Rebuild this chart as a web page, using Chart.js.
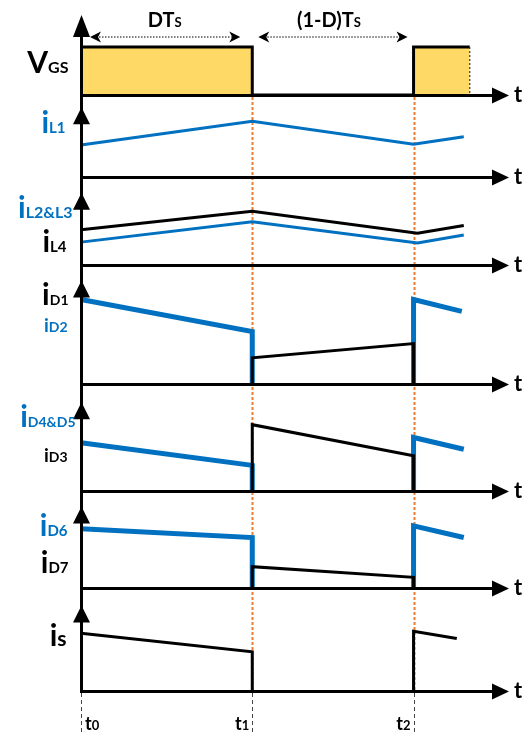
<!DOCTYPE html>
<html>
<head>
<meta charset="utf-8">
<script src="https://cdn.jsdelivr.net/npm/chart.js@4.4.1/dist/chart.umd.min.js"></script>
<style>
  html, body { margin: 0; padding: 0; background: #ffffff; }
  #wrap { width: 527px; height: 732px; }
</style>
</head>
<body>
<div id="wrap"><canvas id="wave" width="527" height="732"></canvas></div>
<script>
// Switching instants over one period (period normalised to 1, duty ratio D)
const instants = [0, 0.515, 1];
const instantSubscripts = ['0', '1', '2'];

// Gate-source voltage V_GS
const vgsTime = [0, 0.515, 0.515, 1, 1, 1.169];
const vgsLevel = [6, 6, 0, 0, 6, 6];

// Inductor currents
const iL1Time = [0, 0.515, 1, 1.151];
const iL1 = [3.9, 6.8, 4.0, 4.9];
const iL234Time = [0, 0.515, 1.012, 1.151];
const iL4 = [4.0, 6.1, 3.6, 4.5];
const iL23 = [2.6, 4.9, 2.5, 3.4];

// Diode currents (null = no trace between the two pulses)
const onTime = [0, 0.515, 0.515, 0.515, 1, 1];
const offTime = [0.515, 0.515, 1, 1];
const iD2 = [7.1, 4.4, 0, null, 0, 7.1, 6.1];
const iD2End = 1.145;
const iD1 = [0, 2.2, 3.4, 0];
const iD45 = [4.5, 2.4, 0, null, 0, 5.0, 3.9];
const iD45End = 1.151;
const iD3 = [0, 6.2, 3.3, 0];
const iD6 = [6.1, 5.2, 0, null, 0, 6.4, 5.2];
const iD6End = 1.151;
const iD7 = [0, 2.2, 1.1, 0];

// Switch current
const iS = [5.6, 3.8, 0, null, 0, 5.8, 5.1];
const iSEnd = 1.13;

const BLUE = '#0070C0';
const BLACK = '#000000';
const ORANGE = '#ED7D31';
const GOLD = '#FFD966';
const FONT = 'Lato, "Open Sans", sans-serif';

// Stacked panels, top to bottom: id, height share, arrow tip value
const panels = [
  { id: 'vgs',   weight: 80,  tip: 10 },
  { id: 'il1',   weight: 82,  tip: 8.5 },
  { id: 'il234', weight: 88,  tip: 8.2 },
  { id: 'id12',  weight: 119, tip: 8.7 },
  { id: 'id345', weight: 107, tip: 8.3 },
  { id: 'id67',  weight: 97,  tip: 8.4 },
  { id: 'is',    weight: 103, tip: 8.3 }
];
const timeMax = 1.287;

const axisLabels = [
  { panel: 'vgs',   at: 2.75, gap: 13, parts: [['V', 30, BLACK], ['GS', 16, BLACK]] },
  { panel: 'il1',   at: 5.4,  gap: 16, parts: [['i', 30, BLUE], ['L1', 15, BLUE]] },
  { panel: 'il234', at: 5.3,  gap: 9,  parts: [['i', 30, BLUE], ['L2&L3', 16, BLUE]] },
  { panel: 'il234', at: 1.5,  gap: 15, parts: [['i', 30, BLACK], ['L4', 15, BLACK]] },
  { panel: 'id12',  at: 6.6,  gap: 13, parts: [['i', 30, BLACK], ['D1', 14, BLACK]] },
  { panel: 'id12',  at: 4.4,  gap: 14, parts: [['i', 19, BLUE], ['D2', 14, BLUE]] },
  { panel: 'id345', at: 6.0,  gap: 6,  parts: [['i', 30, BLUE], ['D4&D5', 14, BLUE]] },
  { panel: 'id345', at: 2.7,  gap: 14, parts: [['i', 19, BLACK], ['D3', 14, BLACK]] },
  { panel: 'id67',  at: 5.4,  gap: 14, parts: [['i', 30, BLUE], ['D6', 15, BLUE]] },
  { panel: 'id67',  at: 1.5,  gap: 13, parts: [['i', 30, BLACK], ['D7', 15, BLACK]] },
  { panel: 'is',    at: 4.4,  gap: 15, parts: [['i', 30, BLACK], ['s', 21, BLACK]] }
];

function points(time, value) {
  return time.map((t, i) => ({ x: t, y: value[i] }));
}

function trace(axis, time, value, color, width, extra) {
  return Object.assign({
    data: points(time, value),
    xAxisID: 'x',
    yAxisID: axis,
    borderColor: color,
    borderWidth: width,
    pointRadius: 0,
    pointHoverRadius: 0,
    tension: 0,
    fill: false,
    spanGaps: false,
    clip: false,
    borderCapStyle: 'butt',
    borderJoinStyle: 'miter'
  }, extra || {});
}

// black traces first so they are painted over the blue ones
const datasets = [
  trace('il234', iL234Time, iL4, BLACK, 3),
  trace('id12', offTime, iD1, BLACK, 3),
  trace('id345', offTime, iD3, BLACK, 3),
  trace('id67', offTime, iD7, BLACK, 3),
  trace('is', onTime.concat([iSEnd]), iS, BLACK, 3),
  trace('il1', iL1Time, iL1, BLUE, 3),
  trace('il234', iL234Time, iL23, BLUE, 3),
  trace('id12', onTime.concat([iD2End]), iD2, BLUE, 5),
  trace('id345', onTime.concat([iD45End]), iD45, BLUE, 5),
  trace('id67', onTime.concat([iD6End]), iD6, BLUE, 5),
  trace('vgs', vgsTime, vgsLevel, BLACK, 3, { fill: 'origin', backgroundColor: GOLD })
];

const scales = {
  x: { type: 'linear', min: 0, max: timeMax, display: false }
};
panels.forEach(p => {
  scales[p.id] = {
    type: 'linear', position: 'right', stack: 'wave', stackWeight: p.weight,
    min: 0, max: 10, display: false
  };
});

function rich(ctx, parts, x, y, align) {
  let total = 0;
  parts.forEach(([text, size]) => {
    ctx.font = `700 ${size}px ${FONT}`;
    total += ctx.measureText(text).width;
  });
  let cx = align === 'right' ? x - total : (align === 'center' ? x - total / 2 : x);
  ctx.textAlign = 'left';
  ctx.textBaseline = 'alphabetic';
  parts.forEach(([text, size, color]) => {
    ctx.font = `700 ${size}px ${FONT}`;
    ctx.fillStyle = color || BLACK;
    ctx.fillText(text, cx, y);
    cx += ctx.measureText(text).width;
  });
}

function seg(ctx, x1, y1, x2, y2) {
  ctx.beginPath();
  ctx.moveTo(x1, y1);
  ctx.lineTo(x2, y2);
  ctx.stroke();
}

function dimArrow(ctx, x1, x2, y) {
  ctx.save();
  ctx.strokeStyle = '#555';
  ctx.lineWidth = 1.5;
  ctx.setLineDash([1.5, 1.5]);
  seg(ctx, x1 + 6, y, x2 - 6, y);
  ctx.setLineDash([]);
  ctx.fillStyle = BLACK;
  [[x1, 1], [x2, -1]].forEach(([tx, dir]) => {
    ctx.beginPath();
    ctx.moveTo(tx, y);
    ctx.lineTo(tx + dir * 11, y - 5.5);
    ctx.lineTo(tx + dir * 8, y);
    ctx.lineTo(tx + dir * 11, y + 5.5);
    ctx.closePath();
    ctx.fill();
  });
  ctx.restore();
}

const guides = {
  id: 'guides',
  beforeDatasetsDraw(chart) {
    const { ctx } = chart;
    const x = chart.scales.x;
    const top = chart.scales.vgs.getPixelForValue(0);
    const bottom = chart.scales.is.getPixelForValue(0);
    ctx.save();
    ctx.strokeStyle = ORANGE;
    ctx.lineWidth = 2;
    ctx.setLineDash([3, 2]);
    [instants[1], instants[2]].forEach(t => {
      const px = Math.round(x.getPixelForValue(t)) + 0.5;
      seg(ctx, px, top + 2, px, bottom);
    });
    ctx.strokeStyle = '#444';
    ctx.lineWidth = 1;
    ctx.setLineDash([4, 3]);
    instants.forEach(t => {
      const px = Math.round(x.getPixelForValue(t)) + 0.5;
      seg(ctx, px, bottom + 2, px, chart.height);
    });
    ctx.restore();
  },
  afterDatasetsDraw(chart) {
    const { ctx } = chart;
    const x = chart.scales.x;
    const x0 = Math.floor(x.getPixelForValue(0)) + 0.5;
    const xEnd = x.getPixelForValue(timeMax);
    const yTop = chart.scales.vgs.getPixelForValue(10);
    const yBottom = chart.scales.is.getPixelForValue(0);

    ctx.save();
    // trailing edge of the second gate pulse
    const vx = x.getPixelForValue(vgsTime[vgsTime.length - 1]);
    ctx.strokeStyle = '#333';
    ctx.lineWidth = 1.2;
    ctx.setLineDash([2, 2]);
    seg(ctx, vx, chart.scales.vgs.getPixelForValue(vgsLevel[vgsLevel.length - 1]), vx, chart.scales.vgs.getPixelForValue(0));
    ctx.setLineDash([]);

    // axes
    ctx.strokeStyle = BLACK;
    ctx.fillStyle = BLACK;
    ctx.lineWidth = 3;
    seg(ctx, x0, yTop + 8, x0, yBottom + 1.5);
    panels.forEach(p => {
      const s = chart.scales[p.id];
      const yb = Math.round(s.getPixelForValue(0)) + 0.5;
      seg(ctx, x0 - 1.5, yb, xEnd - 12, yb);
      ctx.beginPath();
      ctx.moveTo(xEnd, yb);
      ctx.lineTo(xEnd - 17, yb - 8);
      ctx.lineTo(xEnd - 17, yb + 8);
      ctx.closePath();
      ctx.fill();
      const yt = s.getPixelForValue(p.tip);
      const ah = p.id === 'vgs' ? 22 : 17;
      ctx.beginPath();
      ctx.moveTo(x0, yt);
      ctx.lineTo(x0 - 8.5, yt + ah);
      ctx.lineTo(x0 + 8.5, yt + ah);
      ctx.closePath();
      ctx.fill();
      rich(ctx, [['t', 22, BLACK]], xEnd + 5, yb + 6, 'left');
    });

    // panel labels
    axisLabels.forEach(l => {
      const y = chart.scales[l.panel].getPixelForValue(l.at);
      rich(ctx, l.parts, x0 - l.gap, y, 'right');
    });

    // interval dimensions above the gate signal
    const vgs = chart.scales.vgs;
    const ya = vgs.getPixelForValue(7.25);
    const yl = vgs.getPixelForValue(8.5);
    const p0 = x.getPixelForValue(instants[0]);
    const p1 = x.getPixelForValue(instants[1]);
    const p2 = x.getPixelForValue(instants[2]);
    dimArrow(ctx, p0 + 9, p1 - 12, ya);
    dimArrow(ctx, p1 + 6, p2 - 6, ya);
    rich(ctx, [['DT', 20, BLACK], ['S', 13, BLACK]], (p0 + p1) / 2 - 2, yl, 'center');
    rich(ctx, [['(1-D)T', 20, BLACK], ['S', 13, BLACK]], (p1 + p2) / 2 - 4, yl, 'center');

    // time instants
    const yt = yBottom + 39;
    instants.forEach((t, i) => {
      const px = x.getPixelForValue(t);
      const parts = [['t', 18, BLACK], [instantSubscripts[i], 13, BLACK]];
      if (i === 0) rich(ctx, parts, px + 4, yt, 'left');
      else rich(ctx, parts, px - 3, yt, 'right');
    });
    ctx.restore();
  }
};

new Chart(document.getElementById('wave'), {
  type: 'line',
  data: { datasets },
  options: {
    responsive: false,
    animation: false,
    events: [],
    layout: { padding: { left: 81, right: 18, top: 15, bottom: 41 } },
    plugins: { legend: { display: false }, tooltip: { enabled: false } },
    scales
  },
  plugins: [guides]
});
</script>
</body>
</html>
